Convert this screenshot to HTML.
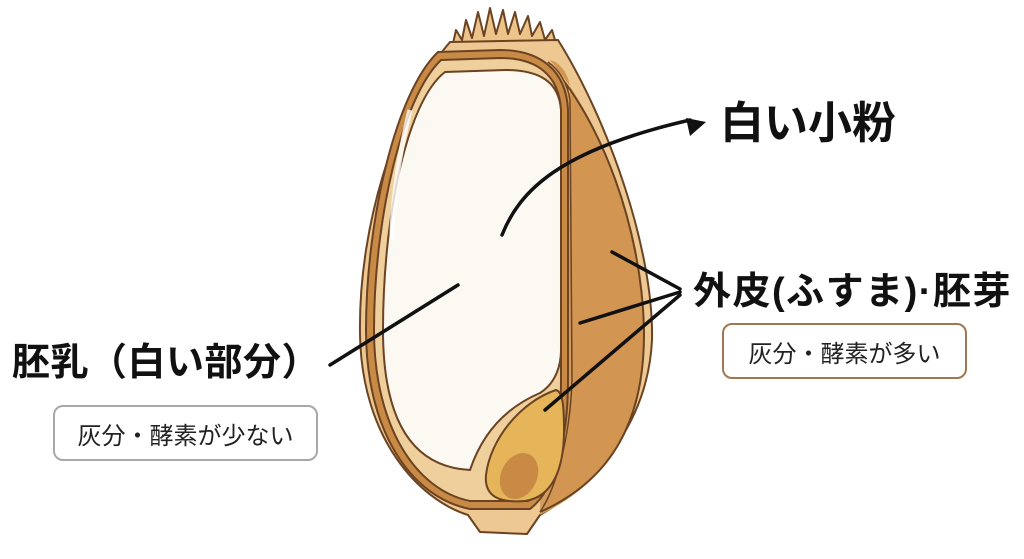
<!DOCTYPE html>
<html><head><meta charset="utf-8"><style>
html,body{margin:0;padding:0;background:#fff;}
body{width:1024px;height:559px;position:relative;overflow:hidden;font-family:"Liberation Sans","Noto Sans CJK JP",sans-serif;}
.t{position:absolute;color:#111;white-space:nowrap;line-height:1;}
.box{position:absolute;border-radius:10px;background:#fff;display:flex;align-items:center;justify-content:center;font-size:24px;color:#222;font-family:"Liberation Sans","Noto Sans CJK JP",sans-serif;}
</style></head><body>
<svg width="1024" height="559" style="position:absolute;left:0;top:0">
<g stroke="#6b4322" stroke-width="2" stroke-linejoin="round">
<path d="M452,48 L456,30 L462,40 L466,20 L472,38 L478,12 L484,36 L490,8 L496,34 L503,10 L508,34 L515,12 L520,34 L528,16 L532,36 L540,22 L545,40 L552,30 L558,50 Z" fill="#ecc48a"/>
<path d="M450,42 C400,100 358,220 360,335 C362,440 420,500 468,515 L480,532 L527,534 L540,515 C600,480 648,420 652,340 C654,250 608,120 558,40 Z" fill="#edc892"/>
<path d="M550,60 C602,120 642,230 644,330 C645,420 612,480 540,515 L545,505 C555,480 565,420 570,380 L570,90 C570,75 560,62 550,60 Z" fill="#d29552" stroke="none"/>
<path d="M548,62 C602,120 642,230 644,330 C645,420 612,480 540,512" fill="none"/>
<path d="M548,62 C560,70 568,85 570,100 L572,380 C570,440 555,490 540,512" fill="#d49b5c" stroke-width="1.5"/>
<path d="M438,52 C396,92 366,220 366,330 C366,430 410,497 470,509 L530,509 C555,490 568,440 568,380 L568,110 C566,70 540,50 500,50 Z" fill="#c98a45"/>
<path d="M441,60 C402,97 374,220 374,330 C374,425 415,490 470,501 L528,501 C552,486 561,440 561,380 L561,110 C559,75 537,58 500,58 Z" fill="#efcf9c"/>
<path d="M445,72 C406,102 383,220 383,330 C383,420 412,467 470,470 C480,440 500,410 540,393 C556,383 561,365 561,350 L561,110 C559,82 540,70 505,70 Z" fill="#fbf9f2"/>
<path d="M556,390 C520,402 490,440 486,475 C484,497 500,503 525,501 C552,497 564,470 564,430 C564,408 563,392 556,390 Z" fill="#e6b559"/>
<ellipse cx="519" cy="476" rx="18" ry="24" transform="rotate(25 519 476)" fill="#c98a45" stroke="none"/>
</g>
<path d="M410,110 C400,150 392,200 392,240" stroke="#fff" stroke-width="5" fill="none" opacity="0.8"/>
<g stroke="#111" stroke-width="3.5" fill="none" stroke-linecap="round">
<path d="M502,235 C520,190 560,150 690,120"/>
<line x1="458" y1="285" x2="330" y2="365"/>
<line x1="612" y1="252" x2="680" y2="289"/>
<line x1="580" y1="323" x2="680" y2="292"/>
<line x1="545" y1="410" x2="680" y2="295"/>
</g>
<path d="M686,118 L706,122 L690,136 Z" fill="#111"/>
</svg>
<div class="t" style="left:720px;top:102px;font-size:44px;font-weight:bold;">白い小粉</div>
<div class="t" style="left:693px;top:273px;font-size:38px;font-weight:bold;letter-spacing:1.5px;">外皮(ふすま)·胚芽</div>
<div class="box" style="left:722px;top:323px;width:241px;height:52px;border:2px solid #a07850;">灰分・酵素が多い</div>
<div class="t" style="left:12px;top:344px;font-size:38px;font-weight:bold;letter-spacing:0.5px;">胚乳（白い部分）</div>
<div class="box" style="left:53px;top:405px;width:261px;height:52px;border:2px solid #a8a8a8;">灰分・酵素が少ない</div>
</body></html>
